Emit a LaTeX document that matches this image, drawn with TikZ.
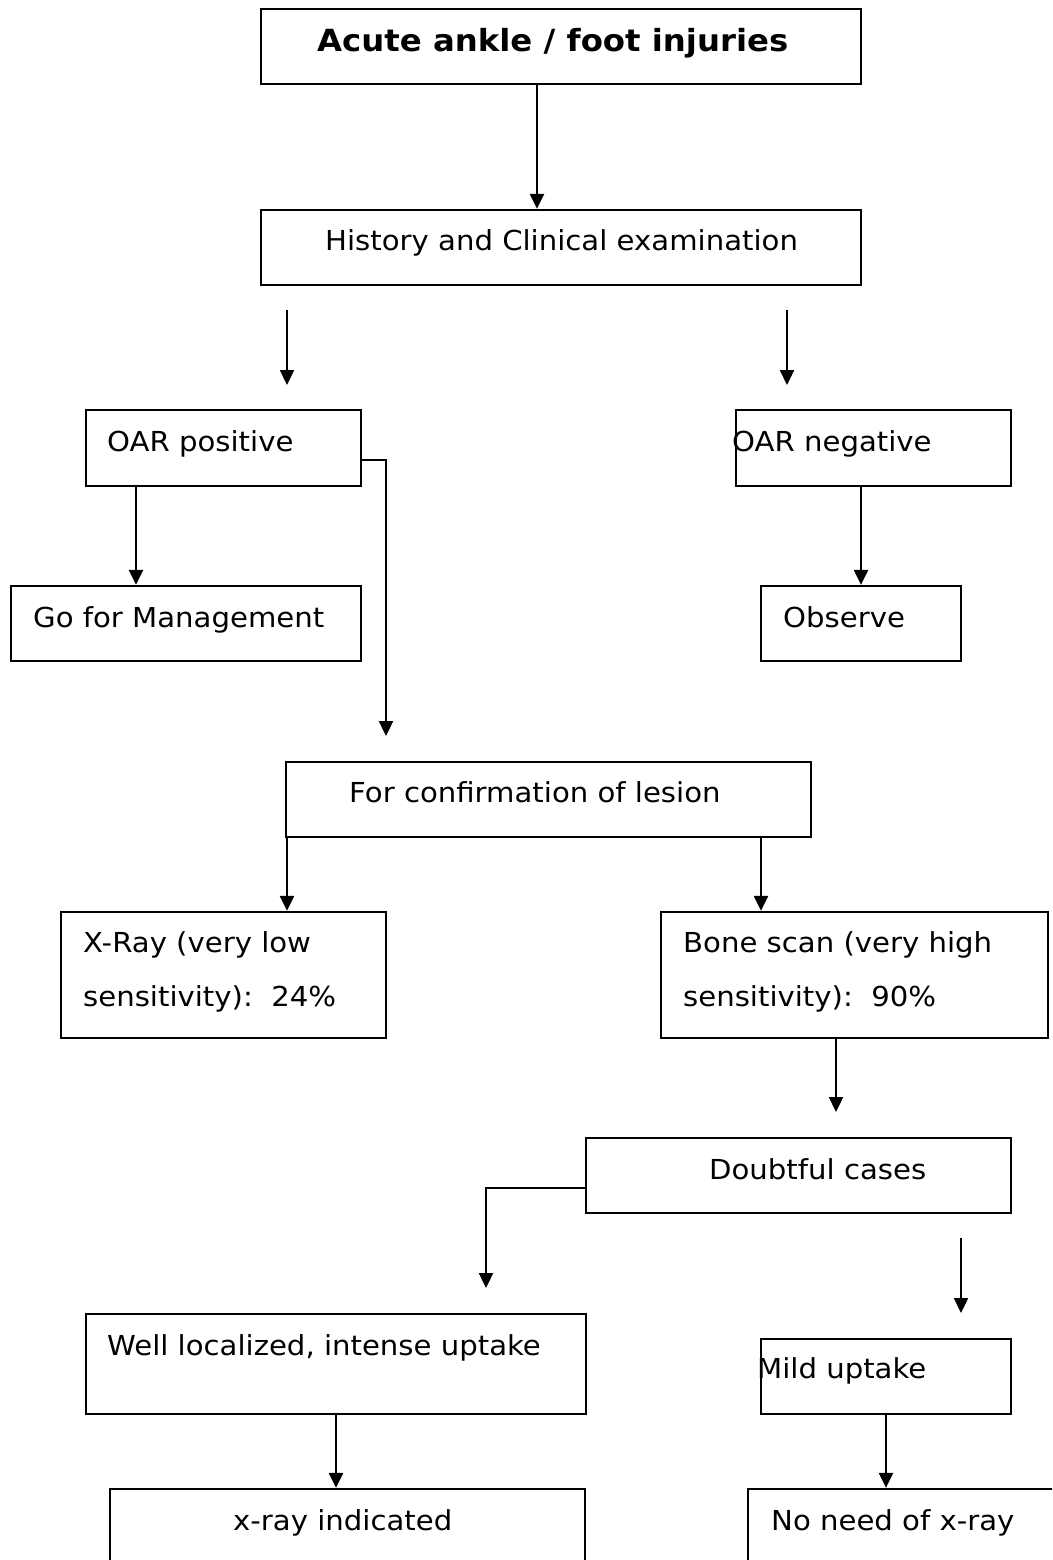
\documentclass[tikz,border=0pt]{standalone}
\usepackage{fontspec}
\setmainfont{DejaVu Sans}[FakeStretch=1.06]
\usetikzlibrary{arrows.meta}
\tikzset{
  boxsty/.style={draw=black, line width=2.3, inner sep=0, fill=none},
  txt/.style={anchor=base west, inner sep=0, font=\fontsize{27.5}{33}\selectfont},
  btxt/.style={anchor=base west, inner sep=0, font=\fontsize{30.5}{36}\selectfont\bfseries},
  arr/.style={line width=2.3, -{Triangle[width=14,length=15]}},
}
\newcommand\bx[5]{\node[boxsty, minimum width={(#4-#2)*1pt}, minimum height={(#5-#3)*1pt}] (#1) at ({(#2+#4)/2},{(#3+#5)/2}) {};}
\begin{document}
\begin{tikzpicture}[x=1pt,y=-1pt]
\useasboundingbox (0,0) rectangle (1052,1560);
\clip (0,0) rectangle (1052,1560);
% boxes
\bx{acute}{261}{9}{861}{84}
\bx{hist}{261}{210}{861}{285}
\bx{oarp}{86}{410}{361}{486}
\bx{oarn}{736}{410}{1011}{486}
\bx{go}{11}{586}{361}{661}
\bx{obs}{761}{586}{961}{661}
\bx{conf}{286}{762}{811}{837}
\bx{xray}{61}{912}{386}{1038}
\bx{bone}{661}{912}{1048}{1038}
\bx{doubt}{586}{1138}{1011}{1213}
\bx{well}{86}{1314}{586}{1414}
\bx{mild}{761}{1339}{1011}{1414}
\bx{xind}{110}{1489}{585}{1600}
\bx{noneed}{748}{1489}{1100}{1600}
% texts
\node[btxt] (acute-t) at (317,52) {Acute ankle / foot injuries};
\node[txt] (hist-t) at (325,250) {History and Clinical examination};
\node[txt] (oarp-t) at (107,451) {OAR positive};
\node[txt] (oarn-t) at (732,451) {OAR negative};
\node[txt] (go-t) at (33,627) {Go for Management};
\node[txt] (obs-t) at (783,627) {Observe};
\node[txt] (conf-t) at (349,802) {For confirmation of lesion};
\node[txt] (xray-t1) at (83,952) {X-Ray (very low};
\node[txt] (xray-t2) at (83,1006) {sensitivity):\ \ 24\%};
\node[txt] (bone-t1) at (683,952) {Bone scan (very high};
\node[txt] (bone-t2) at (683,1006) {sensitivity):\ \ 90\%};
\node[txt] (doubt-t) at (709,1179) {Doubtful cases};
\node[txt] (well-t) at (107,1355) {Well localized, intense uptake};
\node[txt] (mild-t) at (757,1378) {Mild uptake};
\node[txt] (xind-t) at (233,1530) {x-ray indicated};
\node[txt] (noneed-t) at (771,1530) {No need of x-ray};
% x positions of vertical connectors
\coordinate (xa) at (537,0);
\coordinate (xb) at (136,0);
\coordinate (xc) at (861,0);
\coordinate (xd) at (287,0);
\coordinate (xe) at (761,0);
\coordinate (xf) at (836,0);
\coordinate (xg) at (336,0);
\coordinate (xh) at (886,0);
% free ends
\coordinate (f1s) at (287,310);
\coordinate (f1e) at (287,385);
\coordinate (f2s) at (787,310);
\coordinate (f2e) at (787,385);
\coordinate (c1) at (386,736);
\coordinate (c2) at (836,1112);
\coordinate (c3) at (486,1288);
\coordinate (f3s) at (961,1238);
\coordinate (f3e) at (961,1313);
% connectors
\draw[arr] (acute.south -| xa) -- (hist.north -| xa);
\draw[arr] (f1s) -- (f1e);
\draw[arr] (f2s) -- (f2e);
\draw[arr] (oarp.south -| xb) -- (go.north -| xb);
\draw[arr] (oarn.south -| xc) -- (obs.north -| xc);
\draw[arr] ([yshift=-12]oarp.east) -| (c1);
\draw[arr] (conf.south -| xd) -- (xray.north -| xd);
\draw[arr] (conf.south -| xe) -- (bone.north -| xe);
\draw[arr] (bone.south -| xf) -- (c2);
\draw[arr] ([yshift=-12.5]doubt.west) -| (c3);
\draw[arr] (f3s) -- (f3e);
\draw[arr] (well.south -| xg) -- (xind.north -| xg);
\draw[arr] (mild.south -| xh) -- (noneed.north -| xh);
\end{tikzpicture}
\end{document}
